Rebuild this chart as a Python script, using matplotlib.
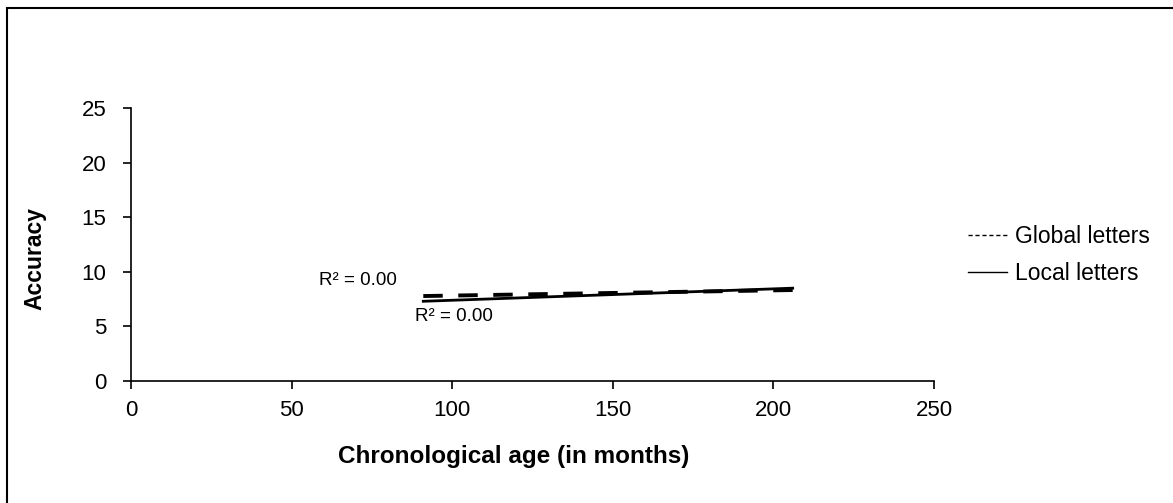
import matplotlib
matplotlib.use('Agg')
import matplotlib.pyplot as plt
from matplotlib.lines import Line2D
from matplotlib.patches import Rectangle

plt.rcParams['font.family'] = ['Liberation Sans', 'DejaVu Sans']

# fitted trend lines (end points)
age = [91, 206]
global_fit = [7.78, 8.33]
local_fit = [7.30, 8.50]
series_names = ['Global letters', 'Local letters']
r2_labels = ['R² = 0.00', 'R² = 0.00']
r2_pos = [(58.5, 9.2), (88.5, 5.95)]
xticks = [0, 50, 100, 150, 200, 250]
yticks = [0, 5, 10, 15, 20, 25]

fig = plt.figure(figsize=(11.73, 5.03), dpi=100)
ax = fig.add_axes([131/1173, 1-381/503, (934-131)/1173, (381-108)/503])

ax.plot(age, global_fit, color='black', lw=2.8, linestyle=(0, (5, 4)))
ax.plot(age, local_fit, color='black', lw=2.0, linestyle='-')

for txt, (x, y) in zip(r2_labels, r2_pos):
    ax.text(x, y, txt, fontsize=13.5, ha='left', va='center')

ax.set_xlim(0, 250)
ax.set_ylim(0, 25)
ax.set_xticks(xticks)
ax.set_yticks(yticks)
ax.tick_params(labelsize=16, direction='out', length=5.8, width=1.2, colors='black')
ax.tick_params(axis='x', pad=8)
ax.tick_params(axis='y', pad=12)
for s in ['top', 'right']:
    ax.spines[s].set_visible(False)
for s in ['left', 'bottom']:
    ax.spines[s].set_linewidth(1.2)

ax.set_xlabel('Chronological age (in months)', fontsize=17.5, fontweight='bold')
ax.xaxis.set_label_coords(0.477, -0.235)
ax.set_ylabel('Accuracy', fontsize=16.5, fontweight='bold')
ax.yaxis.set_label_coords(-0.105, 0.45)

handles = [Line2D([], [], color='black', lw=1.0, linestyle=(0, (3, 2))),
           Line2D([], [], color='black', lw=1.0, linestyle='-')]
fig.legend(handles, series_names, loc='center left', bbox_to_anchor=(947/1173, 1-255/503),
           frameon=False, fontsize=16.5, handlelength=1.7, handletextpad=0.35, labelspacing=0.6)

# outer frame around the chart area
fig.patches.append(Rectangle((7/1173, -0.1), 1.2, 1-8/503+0.1, transform=fig.transFigure,
                             fill=False, edgecolor='black', lw=1.5))

fig.savefig('out.png', dpi=100)
